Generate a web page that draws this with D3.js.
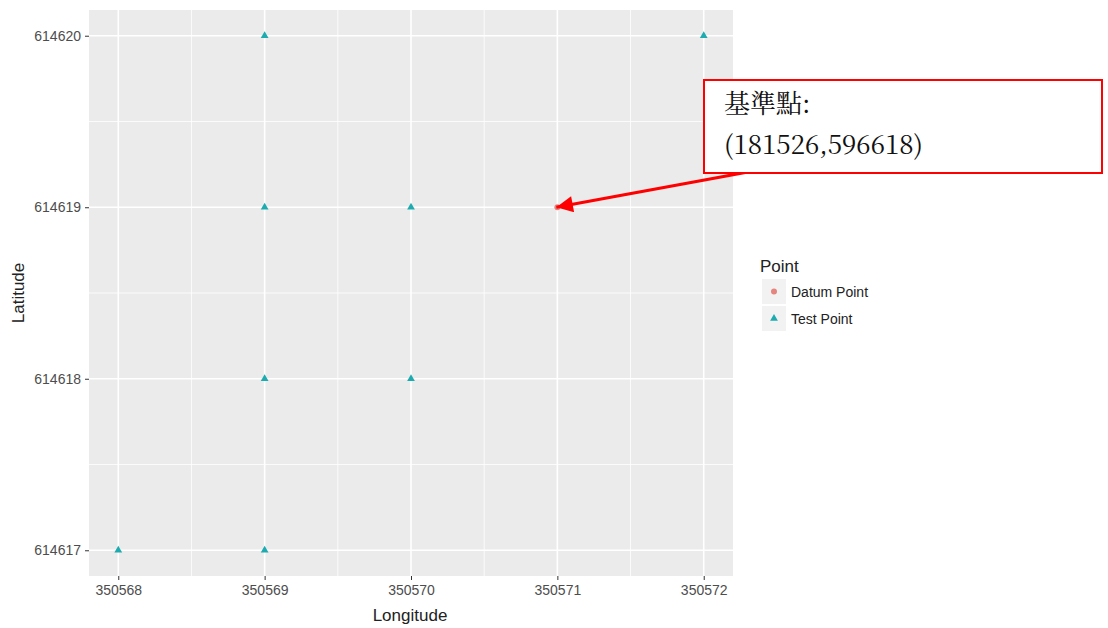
<!DOCTYPE html>
<html><head><meta charset="utf-8">
<script src="https://cdn.jsdelivr.net/npm/d3@7"></script>
<style>body{margin:0;background:#fff;} text{font-family:Arial,"Liberation Sans",sans-serif;}</style>
</head><body>
<svg id="chart" width="1108" height="628"></svg>
<script>
const xTicks = [350568, 350569, 350570, 350571, 350572];
const yTicks = [614617, 614618, 614619, 614620];
const testLon = [350569, 350572, 350569, 350570, 350569, 350570, 350568, 350569];
const testLat = [614620, 614620, 614619, 614619, 614618, 614618, 614617, 614617];
const datumLon = [350571];
const datumLat = [614619];
const legendLabels = ["Datum Point", "Test Point"];
const annotationLines = ["基準點:", "(181526,596618)"];

const svg = d3.select("#chart");
const x = d3.scaleLinear().domain([350568 - 0.2, 350572 + 0.2]).range([89, 733]);
const y = d3.scaleLinear().domain([614617 - 0.15, 614620 + 0.15]).range([576, 10]);
const colDatum = "#E58580", colTest = "#1EABAF";

svg.append("rect").attr("x", 89).attr("y", 10).attr("width", 644).attr("height", 566).attr("fill", "#EBEBEB");
const xMinor = xTicks.slice(0, -1).map(d => d + 0.5);
const yMinor = yTicks.slice(0, -1).map(d => d + 0.5);
svg.selectAll(".xmin").data(xMinor).enter().append("line")
  .attr("x1", d => x(d)).attr("x2", d => x(d)).attr("y1", 10).attr("y2", 576)
  .attr("stroke", "#fff").attr("stroke-width", 0.8);
svg.selectAll(".ymin").data(yMinor).enter().append("line")
  .attr("y1", d => y(d)).attr("y2", d => y(d)).attr("x1", 89).attr("x2", 733)
  .attr("stroke", "#fff").attr("stroke-width", 0.8);
svg.selectAll(".xmaj").data(xTicks).enter().append("line")
  .attr("x1", d => x(d)).attr("x2", d => x(d)).attr("y1", 10).attr("y2", 576)
  .attr("stroke", "#fff").attr("stroke-width", 1.6);
svg.selectAll(".ymaj").data(yTicks).enter().append("line")
  .attr("y1", d => y(d)).attr("y2", d => y(d)).attr("x1", 89).attr("x2", 733)
  .attr("stroke", "#fff").attr("stroke-width", 1.6);

const xAxis = svg.append("g").attr("transform", "translate(0,576)")
  .call(d3.axisBottom(x).tickValues(xTicks).tickFormat(d3.format("d")).tickSize(4).tickPadding(5));
const yAxis = svg.append("g").attr("transform", "translate(89,0)")
  .call(d3.axisLeft(y).tickValues(yTicks).tickFormat(d3.format("d")).tickSize(4).tickPadding(4));
[xAxis, yAxis].forEach(a => {
  a.select(".domain").remove();
  a.selectAll(".tick line").attr("stroke", "#333").attr("stroke-width", 1);
  a.selectAll(".tick text").attr("fill", "#4D4D4D").style("font-size", "14px");
});

svg.append("text").attr("x", 410).attr("y", 621).attr("text-anchor", "middle")
  .style("font-size", "17px").attr("fill", "#222").text("Longitude");
svg.append("text").attr("transform", "translate(24,293) rotate(-90)").attr("text-anchor", "middle")
  .style("font-size", "17px").attr("fill", "#222").text("Latitude");

const tri = d3.symbol().type(d3.symbolTriangle).size(26);
svg.selectAll(".test").data(testLon.map((d, i) => [d, testLat[i]])).enter().append("path")
  .attr("d", tri).attr("transform", d => `translate(${x(d[0])},${y(d[1])})`).attr("fill", colTest);
svg.selectAll(".datum").data(datumLon.map((d, i) => [d, datumLat[i]])).enter().append("circle")
  .attr("cx", d => x(d[0])).attr("cy", d => y(d[1])).attr("r", 3).attr("fill", colDatum);

svg.append("text").attr("x", 760).attr("y", 272).style("font-size", "17px").attr("fill", "#222").text("Point");
legendLabels.forEach((lab, i) => {
  const ky = 279 + i * 27;
  svg.append("rect").attr("x", 762).attr("y", ky).attr("width", 24).attr("height", 25).attr("fill", "#F2F2F2");
  if (i === 0) svg.append("circle").attr("cx", 774).attr("cy", ky + 12.5).attr("r", 3).attr("fill", colDatum);
  else svg.append("path").attr("d", tri).attr("transform", `translate(774,${ky + 12.5})`).attr("fill", colTest);
  svg.append("text").attr("x", 791).attr("y", ky + 18).style("font-size", "14px").attr("fill", "#222").text(lab);
});

const defs = svg.append("defs");
defs.append("marker").attr("id", "ah").attr("viewBox", "0 0 10 10").attr("refX", 10).attr("refY", 5)
  .attr("markerWidth", 6).attr("markerHeight", 5.5).attr("markerUnits", "strokeWidth").attr("orient", "auto")
  .append("path").attr("d", "M0,0 L10,5 L0,10 Z").attr("fill", "#FF0000");
svg.append("line").attr("x1", 748).attr("y1", 172).attr("x2", x(datumLon[0]) - 1).attr("y2", y(datumLat[0]))
  .attr("stroke", "#FF0000").attr("stroke-width", 3).attr("marker-end", "url(#ah)");
svg.append("rect").attr("x", 704).attr("y", 80).attr("width", 398).attr("height", 93)
  .attr("fill", "#fff").attr("stroke", "#FF0000").attr("stroke-width", 2);
annotationLines.forEach((t, i) => {
  svg.append("text").attr("x", 724).attr("y", 113 + i * 41)
    .style("font-family", "Georgia,'Noto Serif CJK TC','DejaVu Serif','Liberation Serif','Noto Sans CJK TC',serif")
    .style("font-size", "26px").attr("fill", "#111").text(t);
});
</script>
</body></html>
